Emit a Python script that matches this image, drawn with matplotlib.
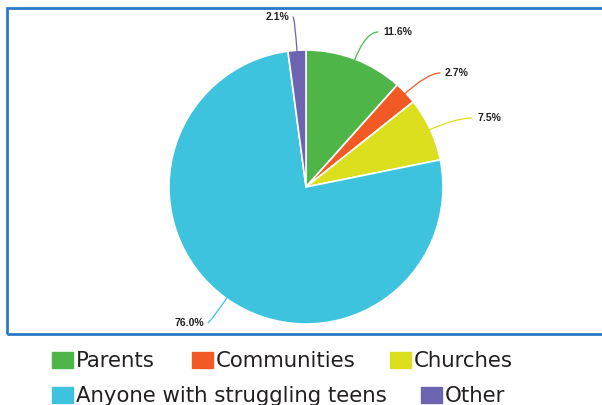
import numpy as np
import matplotlib.pyplot as plt
from matplotlib.patches import Rectangle

labels = ['Parents', 'Communities', 'Churches', 'Anyone with struggling teens', 'Other']
values = [11.6, 2.7, 7.5, 76.0, 2.1]
colors = ['#4eb648', '#f15a24', '#dcdf1e', '#3ec3df', '#6c64b0']

# percent label anchors (pixel coords, y from top); left-side labels are right-aligned
label_pos = [(383, 32), (445, 73), (477, 118), (204, 323), (289, 17)]

W, H = 602, 405
fig = plt.figure(figsize=(W / 100, H / 100), dpi=100)
ax = fig.add_axes([0, 0, 1, 1])

cx, cy, r = 306, H - 187, 137
wedges, _ = ax.pie(values, colors=colors, startangle=90, counterclock=False,
                   center=(cx, cy), radius=r,
                   wedgeprops=dict(edgecolor='white', linewidth=1.2))
ax.set_xlim(0, W)
ax.set_ylim(0, H)
ax.set_aspect('equal')
ax.axis('off')

for w, v, c, (lx, ly) in zip(wedges, values, colors, label_pos):
    ang = np.deg2rad((w.theta1 + w.theta2) / 2)
    px = cx + r * 0.97 * np.cos(ang)
    py = cy + r * 0.97 * np.sin(ang)
    left = lx < cx
    ax.text(lx, H - ly, f'{v:.1f}%', ha='right' if left else 'left', va='center',
            fontsize=7.5, fontweight='bold', color='#222222', family='Liberation Sans')
    ex = lx + 4 if left else lx - 5
    ax.annotate('', xy=(px, py), xytext=(ex, H - ly),
                arrowprops=dict(arrowstyle='-', color=c, lw=0.9,
                                shrinkA=0, shrinkB=0,
                                connectionstyle='angle3,angleA=0,angleB=%d' % (np.rad2deg(ang))))

# outer frame
ax.add_patch(Rectangle((7, H - 334), 620, 326, fill=False, edgecolor='#2a7ac8',
                       linewidth=2, clip_on=False))

# legend, flowed in two rows
leg_pos = [(52, 360), (192, 360), (390, 360), (52, 395), (421, 395)]
for lab, c, (x, y) in zip(labels, colors, leg_pos):
    ax.add_patch(Rectangle((x, H - y - 8), 21, 16, color=c, clip_on=False))
    ax.text(x + 24, H - y - 7, lab, fontsize=15.3, color='#231f20', va='baseline',
            ha='left', family='DejaVu Sans')

fig.savefig('out.png', dpi=100)
